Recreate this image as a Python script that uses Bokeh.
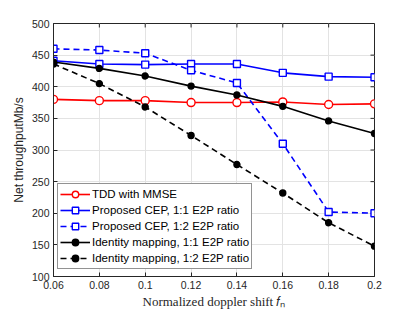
from bokeh.plotting import figure
from bokeh.models import FixedTicker, Range1d
from bokeh.embed import file_html
from bokeh.resources import INLINE

doppler = [0.06, 0.08, 0.10, 0.12, 0.14, 0.16, 0.18, 0.20]
tdd_mmse = [380, 378, 378, 375, 375, 376, 372, 373]
cep_11 = [441, 436, 435, 436, 436, 422, 416, 415]
cep_12 = [460, 458, 453, 426, 406, 310, 202, 200]
ident_11 = [439, 429, 417, 401, 387, 369, 346, 326]
ident_12 = [436, 405, 368, 323, 277, 232, 185, 148]

x_ticks = [0.06, 0.08, 0.1, 0.12, 0.14, 0.16, 0.18, 0.2]
x_tick_labels = ["0.06", "0.08", "0.1", "0.12", "0.14", "0.16", "0.18", "0.2"]
y_ticks = [100, 150, 200, 250, 300, 350, 400, 450, 500]

X0, X1, Y0, Y1 = 0.06, 0.2, 100, 500
AX = "#262626"
p = figure(width=415, height=311, output_backend="svg", toolbar_location=None,
           x_range=Range1d(X0, X1), y_range=Range1d(Y0, Y1),
           min_border_left=53, min_border_right=41, min_border_top=23, min_border_bottom=34)
p.outline_line_color = AX

p.grid.grid_line_color = "#e3e3e3"
p.xgrid.ticker = FixedTicker(ticks=x_ticks)
p.ygrid.ticker = FixedTicker(ticks=y_ticks)

# inward ticks on the top and right edges of the box
tick_y = (Y1 - Y0) * 4 / 254
tick_x = (X1 - X0) * 4 / 321
p.segment(x0=x_ticks, x1=x_ticks, y0=[Y1] * len(x_ticks), y1=[Y1 - tick_y] * len(x_ticks),
          line_color=AX, line_width=1)
p.segment(x0=[X1] * len(y_ticks), x1=[X1 - tick_x] * len(y_ticks), y0=y_ticks, y1=y_ticks,
          line_color=AX, line_width=1)

series = [
    (tdd_mmse, "TDD with MMSE", "red", "solid", "circle", 8, "white"),
    (cep_11, "Proposed CEP, 1:1 E2P ratio", "blue", "solid", "square", 7, "white"),
    (cep_12, "Proposed CEP, 1:2 E2P ratio", "blue", "6 4", "square", 7, "white"),
    (ident_11, "Identity mapping, 1:1 E2P ratio", "black", "solid", "circle", 6, "black"),
    (ident_12, "Identity mapping, 1:2 E2P ratio", "black", "6 4", "circle", 6, "black"),
]
for ys, lab, col, dash, mk, sz, fill in series:
    p.line(doppler, ys, line_color=col, line_width=1.6, line_dash=dash, legend_label=lab)
    p.scatter(doppler, ys, marker=mk, size=sz, line_color=col, line_width=1.4,
              fill_color=fill, legend_label=lab)

def style(ax):
    ax.axis_line_color = AX
    ax.major_tick_line_color = AX
    ax.major_tick_in = 4
    ax.major_tick_out = 0
    ax.minor_tick_line_color = None
    ax.major_label_text_font = "Liberation Sans"
    ax.major_label_text_font_size = "10.5px"
    ax.major_label_text_color = AX
    ax.major_label_standoff = 4

style(p.xaxis[0]); style(p.yaxis[0])
p.xaxis[0].ticker = FixedTicker(ticks=x_ticks)
p.xaxis[0].major_label_overrides = {t: l for t, l in zip(x_ticks, x_tick_labels)}
p.xaxis[0].axis_label = "Normalized doppler shift \U0001D453\u2099"
p.xaxis[0].axis_label_text_font = "Liberation Serif"
p.xaxis[0].axis_label_text_font_style = "normal"
p.xaxis[0].axis_label_text_font_size = "13px"
p.xaxis[0].axis_label_text_color = AX
p.xaxis[0].axis_label_standoff = 2

p.yaxis[0].ticker = FixedTicker(ticks=y_ticks)
p.yaxis[0].axis_label = "Net throughputMb/s"
p.yaxis[0].axis_label_text_font = "Liberation Sans"
p.yaxis[0].axis_label_text_font_style = "normal"
p.yaxis[0].axis_label_text_font_size = "12px"
p.yaxis[0].axis_label_text_color = AX
p.yaxis[0].axis_label_standoff = 3

lg = p.legend[0]
lg.location = (4, 7)
lg.label_text_font = "Liberation Sans"
lg.label_text_font_size = "11.5px"
lg.label_text_color = "black"
lg.glyph_width = 30
lg.glyph_height = 16
lg.label_height = 16
lg.label_standoff = 2
lg.spacing = 0
lg.padding = 2
lg.margin = 0
lg.border_line_color = AX
lg.border_line_width = 1
lg.background_fill_alpha = 1

open("out.html", "w").write(file_html(p, INLINE))
